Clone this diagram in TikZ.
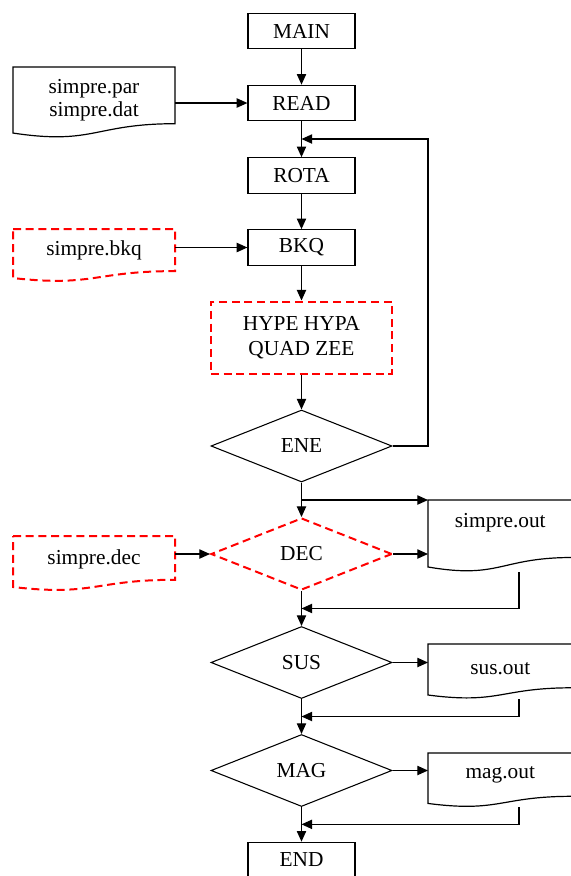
\documentclass[tikz,border=0pt]{standalone}
\usepackage{fontspec}
\setmainfont{Liberation Serif}
\usetikzlibrary{shapes.geometric,arrows.meta,calc}
\newcommand\docpath[5]{%
 \pgfmathsetmacro\dxr{#2+#4}\pgfmathsetmacro\dxm{#2+0.5*#4}%
 \pgfmathsetmacro\dyr{#3+0.802*#5}\pgfmathsetmacro\dyc{#3+1.107*#5}\pgfmathsetmacro\dyl{#3+0.934*#5}%
 \path[#1] (#2,#3) -- (\dxr,#3) -- (\dxr,\dyr) .. controls (\dxm,\dyr) and (\dxm,\dyc) .. (#2,\dyl) -- cycle;}
\begin{document}
\begin{tikzpicture}[x=0.75pt,y=-0.75pt,
 every node/.style={font=\fontsize{16}{17.5}\selectfont, inner sep=0pt},
 box/.style={draw, line width=0.9pt, minimum width=80.25pt, minimum height=26.6pt},
 redbox/.style={draw=red, line width=1.5pt, dash pattern=on 6pt off 3.5pt, minimum width=135.75pt, minimum height=54pt},
 dia/.style={diamond, draw, line width=0.8pt, minimum width=135.75pt, minimum height=54pt},
 reddia/.style={diamond, draw=red, line width=1.5pt, dash pattern=on 6pt off 3.5pt, minimum width=135.75pt, minimum height=54pt},
 filebox/.style={minimum width=121.5pt},
 outbox/.style={anchor=north west, minimum width=108pt},
 arr/.style={line width=0.9pt, -{Triangle[length=8pt,width=7pt]}},
 docline/.style={draw, line width=0.9pt},
 reddoc/.style={draw=red, line width=1.5pt, dash pattern=on 6pt off 3.5pt}
]
\useasboundingbox (0,0) rectangle (571,876);
\clip (0,0) rectangle (571,876);
% document shapes
\docpath{docline}{13}{67}{162}{70.7}
\docpath{reddoc}{13}{229}{162}{52.5}
\docpath{reddoc}{13}{536}{162}{54.6}
\docpath{docline}{428}{500}{144}{71.7}
\docpath{docline}{428}{644}{144}{54.6}
\docpath{docline}{428}{753}{144}{54}
% main column
\node[box] (main) at (301.5,31) {MAIN};
\node[box] (read) at (301.5,103) {READ};
\node[box] (rota) at (301.5,175.5) {ROTA};
\node[box] (bkq) at (301.5,247.5) {BKQ};
\node[redbox, align=center, font=\fontsize{16}{18.75}\selectfont] (hype) at (301.5,337.5) {HYPE HYPA\\QUAD ZEE};
\node[dia] (ene) at (301.5,446) {ENE};
\node[reddia] (dec) at (301.5,554) {DEC};
\node[dia] (sus) at (301.5,662.5) {SUS};
\node[dia] (mag) at (301.5,770.5) {MAG};
\node[box] (end) at (301.5,860) {END};
% file texts
\node[filebox, align=center, font=\fontsize{16}{17.25}\selectfont] (par) at (94,100.5) {simpre.par\\simpre.dat};
\node[filebox] (bkqf) at (94,250) {simpre.bkq};
\node[filebox] (decf) at (94,559) {simpre.dec};
\node[outbox, minimum height=33pt] (sout) at (428,500) {simpre.out};
\node[outbox, minimum height=36pt] (susout) at (428,644) {sus.out};
\node[outbox, minimum height=33pt] (magout) at (428,753) {mag.out};
% connectors
\draw[arr] (main) -- (read);
\draw[arr] (read) -- (rota);
\draw[arr] (rota) -- (bkq);
\draw[arr] (bkq) -- (hype);
\draw[arr] (hype) -- (ene);
\draw[arr] (ene) -- (dec);
\draw[arr] (dec) -- (sus);
\draw[arr] (sus) -- (mag);
\draw[arr] (mag) -- (end);
\draw[arr] (par.east |- read) -- (read.west);
\draw[arr] (bkqf.east |- bkq) -- (bkq.west);
\draw[arr] (decf.east |- dec) -- (dec.west);
\draw[arr] (dec.east) -- (dec.east -| sout.west);
\draw[arr] (sus.east) -- (sus.east -| susout.west);
\draw[arr] (mag.east) -- (mag.east -| magout.west);
\coordinate (loop) at (428,139);
\draw[arr] (ene.east) -| (loop) -- (loop -| read.south);
\draw[arr] (ene.south |- sout.north west) -- (sout.north west);
\coordinate (r1) at (519,572);
\coordinate (r2) at (519,699);
\coordinate (r3) at (519,807);
\draw[arr] (r1) |- ($(dec.south)!.5!(sus.north)$);
\draw[arr] (r2) |- ($(sus.south)!.5!(mag.north)$);
\draw[arr] (r3) |- ($(mag.south)!.5!(end.north)$);
\end{tikzpicture}
\end{document}
